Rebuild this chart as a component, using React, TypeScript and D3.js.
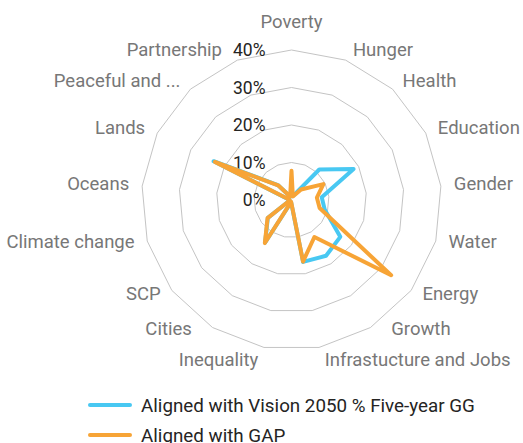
import * as d3 from "d3";
import { useEffect, useRef } from "react";

const axes = [
  "Poverty",
  "Hunger",
  "Health",
  "Education",
  "Gender",
  "Water",
  "Energy",
  "Growth",
  "Infrastucture and Jobs",
  "Inequality",
  "Cities",
  "SCP",
  "Climate change",
  "Oceans",
  "Lands",
  "Peaceful and ...",
  "Partnership",
];

// percent values
const visionValues = [1, 1.2, 11, 18.5, 8.1, 9.2, 16.3, 17.5, 16.8, 0.6, 13.4, 7.9, 0.5, 0.6, 23.2, 5.4, 1];
const gapValues = [7.8, 1, 3.8, 9.5, 6.8, 7.8, 33.3, 11.6, 16.7, 0.5, 13.5, 8, 0.5, 0.5, 22.8, 5.3, 1];

const seriesNames = ["Aligned with Vision 2050 % Five-year GG", "Aligned with GAP"];
const seriesColors = ["#48C8F2", "#F7A436"];
const tickValues = [0, 10, 20, 30, 40];

export default function App() {
  const ref = useRef<SVGSVGElement>(null);

  useEffect(() => {
    if (!ref.current) return;
    const svg = d3.select(ref.current);
    svg.selectAll("*").remove();

    const width = 523,
      height = 443;
    const cx = 291.5,
      cy = 200,
      radius = 150;
    const font = "Roboto, 'Noto Sans', sans-serif";

    svg.attr("width", width).attr("height", height);

    const r = d3.scaleLinear().domain([0, 40]).range([0, radius]);
    const angle = (i: number) => (i * 2 * Math.PI) / axes.length;

    const g = svg.append("g").attr("transform", `translate(${cx},${cy})`);

    // grid polygons
    const ring = d3
      .lineRadial<number>()
      .angle((_, i) => angle(i))
      .radius((d) => r(d))
      .curve(d3.curveLinearClosed);

    g.selectAll("path.grid")
      .data(tickValues.filter((t) => t > 0))
      .enter()
      .append("path")
      .attr("class", "grid")
      .attr("d", (t) => ring(axes.map(() => t)))
      .attr("fill", "none")
      .attr("stroke", "#c4c4c4")
      .attr("stroke-width", 1);

    // tick labels
    const ticks = g
      .selectAll("text.tick")
      .data(tickValues)
      .enter()
      .append("text")
      .attr("class", "tick")
      .attr("x", -26)
      .attr("y", (t) => -r(t))
      .attr("dy", "0.35em")
      .attr("text-anchor", "end")
      .attr("font-family", font)
      .attr("font-size", "17.5px")
      .attr("fill", "#252423")
      .text((t) => `${t}%`);

    // axis labels, placed radially first
    const labelR = radius + 9;
    const pos = axes.map((d, i) => {
      const s = Math.sin(angle(i));
      const c = Math.cos(angle(i));
      const side = Math.abs(s) < 0.1 ? 0 : s > 0 ? 1 : -1;
      return {
        side,
        x: side === 0 ? 0 : s * labelR + side * 4,
        y: i === 0 ? -labelR - 19 : -c * labelR - 2,
      };
    });

    const labels = g
      .selectAll("text.axis")
      .data(axes)
      .enter()
      .append("text")
      .attr("class", "axis")
      .attr("dy", "0.35em")
      .attr("text-anchor", (d, i) => (pos[i].side === 0 ? "middle" : pos[i].side > 0 ? "start" : "end"))
      .attr("font-family", font)
      .attr("font-size", "18.5px")
      .attr("fill", "#777777")
      .text((d) => d);

    const place = () => labels.attr("x", (d, i) => pos[i].x).attr("y", (d, i) => pos[i].y);
    place();

    // keep labels clear of the tick labels
    const tickBoxes = ticks.nodes().map((n) => (n as SVGTextElement).getBBox());
    labels.nodes().forEach((n, i) => {
      const b = (n as SVGTextElement).getBBox();
      tickBoxes.forEach((t) => {
        const vOverlap = b.y < t.y + t.height && t.y < b.y + b.height;
        if (!vOverlap || pos[i].side >= 0) return;
        const gap = t.x - (b.x + b.width);
        if (gap > -40 && gap < 11) pos[i].x -= 11 - gap;
      });
    });
    place();

    // separate lower labels that crowd each other
    const boxes = labels.nodes().map((n) => (n as SVGTextElement).getBBox());
    for (let i = 0; i < axes.length; i++) {
      for (let j = 0; j < axes.length; j++) {
        if (i === j || pos[i].y < 0 || pos[j].y < 0) continue;
        const a = boxes[i],
          b = boxes[j];
        const hOverlap = a.x < b.x + b.width && b.x < a.x + a.width;
        if (!hOverlap || a.y > b.y) continue;
        const gap = b.y - (a.y + a.height);
        if (gap < 9) {
          const shift = (9 - gap) / 2;
          pos[i].y -= shift;
          pos[j].y += shift;
          pos[i].x += pos[i].side * 12;
        }
      }
    }
    place();

    // series
    const line = d3
      .lineRadial<number>()
      .angle((_, i) => angle(i))
      .radius((d) => r(d))
      .curve(d3.curveLinearClosed);

    [visionValues, gapValues].forEach((vals, si) => {
      g.append("path")
        .attr("d", line(vals))
        .attr("fill", "none")
        .attr("stroke", seriesColors[si])
        .attr("stroke-width", 4)
        .attr("stroke-linejoin", "round");
    });

    // legend
    const legend = svg.append("g");
    seriesNames.forEach((name, i) => {
      const y = 405 + i * 30;
      legend
        .append("line")
        .attr("x1", 90)
        .attr("x2", 130)
        .attr("y1", y)
        .attr("y2", y)
        .attr("stroke", seriesColors[i])
        .attr("stroke-width", 4)
        .attr("stroke-linecap", "round");
      legend
        .append("text")
        .attr("x", 141)
        .attr("y", y)
        .attr("dy", "0.35em")
        .attr("font-family", font)
        .attr("font-size", "18.8px")
        .attr("fill", "#252423")
        .text(name);
    });
  }, []);

  return <svg ref={ref} style={{ position: "absolute", left: 0, top: 0 }} />;
}
